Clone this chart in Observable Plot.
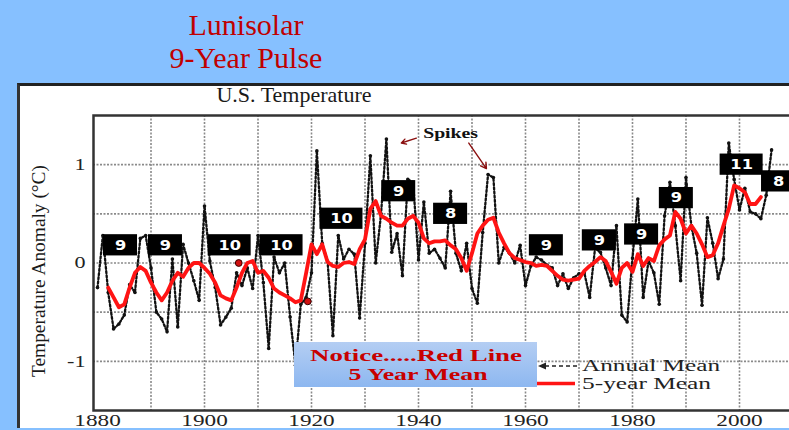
<!DOCTYPE html>
<html>
<head>
<meta charset="utf-8">
<script src="https://cdn.jsdelivr.net/npm/d3@7"></script>
<script src="https://cdn.jsdelivr.net/npm/@observablehq/plot@0.6"></script>
<style>
html, body { margin: 0; padding: 0; width: 789px; height: 430px; overflow: hidden; }
body { background: #86C0FF; position: relative; font-family: "Liberation Serif", serif; }
#panel { position: absolute; left: 17px; top: 83px; width: 772px; height: 345px; background: #fff;
  border-top: 3px solid #222; border-left: 3px solid #333; box-sizing: border-box; }
#chart { position: absolute; left: 0; top: 0; }
#overlay { position: absolute; left: 0; top: 0; pointer-events: none; }
</style>
</head>
<body>
<div id="panel"></div>
<div id="chart"></div>
<svg id="overlay" width="789" height="430"></svg>
<script>
// ---------- data ----------
const annualYears = [1880,1881,1882,1883,1884,1885,1886,1887,1888,1889,
  1890,1891,1892,1893,1894,1895,1896,1897,1898,1899,
  1900,1901,1902,1903,1904,1905,1906,1907,1908,1909,
  1910,1911,1912,1913,1914,1915,1916,1917,1918,1919,
  1920,1921,1922,1923,1924,1925,1926,1927,1928,1929,
  1930,1931,1932,1933,1934,1935,1936,1937,1938,1939,
  1940,1941,1942,1943,1944,1945,1946,1947,1948,1949,
  1950,1951,1952,1953,1954,1955,1956,1957,1958,1959,
  1960,1961,1962,1963,1964,1965,1966,1967,1968,1969,
  1970,1971,1972,1973,1974,1975,1976,1977,1978,1979,
  1980,1981,1982,1983,1984,1985,1986,1987,1988,1989,
  1990,1991,1992,1993,1994,1995,1996,1997,1998,1999,
  2000,2001,2002,2003,2004,2005,2006];
const annualMean = [-0.25,0.28,-0.30,-0.67,-0.62,-0.53,-0.22,-0.30,0.25,0.28,
  -0.05,-0.50,-0.57,-0.70,0.04,-0.65,0.19,0.00,-0.18,-0.38,
  0.58,0.02,-0.25,-0.63,-0.55,-0.46,-0.10,-0.23,-0.05,-0.26,
  0.28,-0.20,-0.87,0.06,-0.10,0.00,-0.55,-1.04,-0.42,-0.35,
  -0.10,1.14,0.20,0.02,-0.74,0.28,0.04,0.14,0.09,-0.56,
  0.20,1.09,0.00,0.50,1.26,0.11,0.30,-0.13,0.85,0.82,
  0.03,0.62,0.10,0.14,0.05,-0.05,0.73,0.10,-0.08,0.20,
  -0.26,-0.41,0.31,0.90,0.87,0.00,0.16,0.10,0.00,0.18,
  -0.23,-0.03,0.06,0.03,-0.02,-0.05,-0.23,-0.11,-0.26,-0.15,
  -0.11,-0.10,-0.35,0.15,0.11,-0.05,-0.23,0.38,-0.53,-0.60,
  0.05,0.65,-0.35,0.02,-0.10,-0.42,0.48,0.82,0.38,-0.18,
  0.87,0.38,0.10,-0.43,0.46,0.20,-0.16,0.04,1.22,0.85,
  0.54,0.76,0.52,0.50,0.45,0.69,1.15];

const fiveYearYears = [1882,1883,1884,1885,1886,1887,1888,1889,
  1890,1891,1892,1893,1894,1895,1896,1897,1898,1899,
  1900,1901,1902,1903,1904,1905,1906,1907,1908,1909,
  1910,1911,1912,1913,1914,1915,1916,1917,1918,1919,
  1920,1921,1922,1923,1924,1925,1926,1927,1928,1929,
  1930,1931,1932,1933,1934,1935,1936,1937,1938,1939,
  1940,1941,1942,1943,1944,1945,1946,1947,1948,1949,
  1950,1951,1952,1953,1954,1955,1956,1957,1958,1959,
  1960,1961,1962,1963,1964,1965,1966,1967,1968,1969,
  1970,1971,1972,1973,1974,1975,1976,1977,1978,1979,
  1980,1981,1982,1983,1984,1985,1986,1987,1988,1989,
  1990,1991,1992,1993,1994,1995,1996,1997,1998,1999,
  2000,2001,2002,2003,2004];
const fiveYearMean = [-0.25,-0.35,-0.45,-0.42,-0.25,-0.10,-0.04,-0.08,
  -0.20,-0.30,-0.38,-0.30,-0.18,-0.10,-0.14,-0.05,0.00,0.00,
  -0.05,-0.11,-0.20,-0.33,-0.36,-0.38,-0.25,-0.10,0.00,0.02,
  -0.10,-0.08,-0.15,-0.26,-0.30,-0.33,-0.36,-0.40,-0.38,-0.10,
  0.19,0.09,0.19,0.01,-0.03,-0.04,0.00,0.01,-0.01,0.14,
  0.24,0.55,0.63,0.48,0.45,0.41,0.38,0.38,0.45,0.48,
  0.41,0.25,0.20,0.22,0.22,0.23,0.18,0.14,0.05,-0.08,
  0.10,0.30,0.38,0.44,0.46,0.31,0.20,0.10,0.05,0.03,
  0.01,0.00,-0.03,-0.02,-0.03,-0.08,-0.13,-0.17,-0.18,-0.17,
  -0.16,-0.08,-0.03,0.01,0.06,0.02,-0.09,-0.21,-0.05,0.00,
  -0.09,0.09,-0.03,0.05,0.02,0.18,0.24,0.28,0.52,0.45,
  0.30,0.38,0.30,0.19,0.06,0.08,0.20,0.38,0.55,0.79,
  0.76,0.72,0.60,0.60,0.67];

// cycle-length annotations (label, centre year, centre anomaly)
const cycleLabels = ["9","9","10","10","10","9","8","9","9","9","9","11","8"];
const cycleYears  = [1884.3,1892.7,1904.7,1914.4,1925.6,1936.3,1946.0,1963.9,1973.8,1981.7,1988.2,2000.4,2007.3];
const cycleValues = [0.18,0.18,0.18,0.18,0.45,0.73,0.50,0.18,0.23,0.29,0.66,1.00,0.83];

// highlighted red points
const markYears  = [1906.4, 1919.3];
const markValues = [0.00, -0.39];

// "Spikes" annotation
const spikeLabel = ["Spikes"];
const spikeLabelYear = [1946.0];
const spikeLabelValue = [1.32];
const arrowFromYears  = [1939.6, 1949.4];
const arrowFromValues = [1.27, 1.22];
const arrowToYears    = [1936.8, 1952.7];
const arrowToValues   = [1.22, 0.96];

const xTickYears  = [1880,1900,1920,1940,1960,1980,2000];
const yTickValues = [-1,0,1];
const xGridYears  = [1890,1900,1910,1920,1930,1940,1950,1960,1970,1980,1990,2000];
const yGridValues = [-1,-0.5,0,0.5,1];

// ---------- tables ----------
const annual = annualYears.map((y, i) => ({year: y, value: annualMean[i]}));
const fiveYear = fiveYearYears.map((y, i) => ({year: y, value: fiveYearMean[i]}));
const cycles = cycleLabels.map((t, i) => ({label: t, year: cycleYears[i], value: cycleValues[i]}));
const marks = markYears.map((y, i) => ({year: y, value: markValues[i]}));
const spikesText = spikeLabel.map((t, i) => ({label: t, year: spikeLabelYear[i], value: spikeLabelValue[i]}));
const arrows = arrowFromYears.map((y, i) => ({x1: y, y1: arrowFromValues[i], x2: arrowToYears[i], y2: arrowToValues[i]}));

const halfW = d => d.label.length > 1 ? 4.02 : 3.18;   // box half width (years)
const halfH = 0.108;                                    // box half height (°C)

const plot = Plot.plot({
  width: 800,
  height: 430,
  marginLeft: 93,
  marginRight: 5,
  marginTop: 115,
  marginBottom: 20,
  style: {background: "transparent", maxWidth: "none", fontFamily: "Liberation Serif, serif", fontSize: "16px", color: "#222"},
  x: {domain: [1879.25, 2010.47], label: null},
  y: {domain: [-1.5, 1.5], label: null},
  marks: [
    Plot.ruleX(xGridYears, {stroke: "#8a8a8a", strokeWidth: 1.6, strokeDasharray: "2,1.5"}),
    Plot.ruleY(yGridValues, {stroke: "#8a8a8a", strokeWidth: 1.6, strokeDasharray: "2,1.5"}),
    Plot.axisX(xTickYears, {tickSize: 0, tickPadding: 4, tickFormat: d => String(d), fontSize: 16, label: null}),
    Plot.axisY(yTickValues, {tickSize: 0, tickPadding: 8, tickFormat: d => String(d), fontSize: 17, label: null}),
    Plot.line(annual, {x: "year", y: "value", stroke: "#111", strokeWidth: 2.3, strokeDasharray: "2,2.2"}),
    Plot.dot(annual, {x: "year", y: "value", r: 1.8, fill: "#111"}),
    Plot.line(fiveYear, {x: "year", y: "value", stroke: "#FF1414", strokeWidth: 3.8, strokeLinejoin: "round"}),
    Plot.dot(marks, {x: "year", y: "value", r: 3.4, fill: "#D01010", stroke: "#3a0000", strokeWidth: 1}),
    Plot.frame({stroke: "#333", strokeWidth: 2.5}),
    Plot.rect(cycles, {x1: d => d.year - halfW(d), x2: d => d.year + halfW(d), y1: d => d.value - halfH, y2: d => d.value + halfH, fill: "#000"}),
    Plot.text(cycles, {x: "year", y: "value", text: "label", fill: "#fff", fontFamily: "DejaVu Sans, sans-serif", fontWeight: "bold", fontSize: 13.5}),
    Plot.text(spikesText, {x: "year", y: "value", text: "label", fill: "#111", fontFamily: "Liberation Serif, serif", fontWeight: "bold", fontSize: 14}),
    Plot.arrow(arrows, {x1: "x1", y1: "y1", x2: "x2", y2: "y2", stroke: "#8B1010", strokeWidth: 1.4, headLength: 7})
  ]
});
document.getElementById("chart").appendChild(plot);

// widen horizontal glyphs to match the stretched original picture
function stretch(sel, k) {
  sel.each(function() {
    const w = this.getComputedTextLength();
    if (w > 0) {
      this.setAttribute("textLength", (w * k).toFixed(2));
      this.setAttribute("lengthAdjust", "spacingAndGlyphs");
    }
  });
}
const svg = d3.select(plot);
stretch(svg.selectAll('g[aria-label="x-axis tick label"] text'), 1.45);
stretch(svg.selectAll('g[aria-label="y-axis tick label"] text'), 1.3);
const textGroups = svg.selectAll('g[aria-label="text"]').nodes();
if (textGroups[0]) stretch(d3.select(textGroups[0]).selectAll("text"), 1.2);
if (textGroups[1]) stretch(d3.select(textGroups[1]).selectAll("text"), 1.41);

// ---------- titles, label, notice and legend ----------
const ov = d3.select("#overlay");
const defs = ov.append("defs");
const grad = defs.append("linearGradient").attr("id", "noticeGrad").attr("x1", 0).attr("y1", 0).attr("x2", 0).attr("y2", 1);
grad.append("stop").attr("offset", "0%").attr("stop-color", "#B4CEF3");
grad.append("stop").attr("offset", "100%").attr("stop-color", "#8DB7F0");

ov.append("text").attr("x", 246).attr("y", 35).attr("text-anchor", "middle")
  .attr("font-family", "Liberation Serif, serif").attr("font-size", 30).attr("fill", "#C00000").text("Lunisolar");
ov.append("text").attr("x", 246).attr("y", 68).attr("text-anchor", "middle")
  .attr("font-family", "Liberation Serif, serif").attr("font-size", 30).attr("fill", "#C00000").text("9-Year Pulse");
ov.append("text").attr("x", 294).attr("y", 102).attr("text-anchor", "middle")
  .attr("font-family", "Liberation Serif, serif").attr("font-size", 22).attr("fill", "#1a1a1a").text("U.S. Temperature");
ov.append("text").attr("transform", "translate(44.5,271) rotate(-90)").attr("text-anchor", "middle")
  .attr("font-family", "Liberation Serif, serif").attr("font-size", 19).attr("fill", "#1a1a1a")
  .attr("textLength", 212).attr("lengthAdjust", "spacingAndGlyphs").text("Temperature Anomaly (°C)");

// notice box
ov.append("rect").attr("x", 294).attr("y", 342).attr("width", 243).attr("height", 45).attr("fill", "url(#noticeGrad)");
ov.append("text").attr("x", 416).attr("y", 361).attr("text-anchor", "middle")
  .attr("font-family", "Liberation Serif, serif").attr("font-weight", "bold").attr("font-size", 17).attr("fill", "#C80000")
  .attr("textLength", 212).attr("lengthAdjust", "spacingAndGlyphs").text("Notice.....Red Line");
ov.append("text").attr("x", 418).attr("y", 380).attr("text-anchor", "middle")
  .attr("font-family", "Liberation Serif, serif").attr("font-weight", "bold").attr("font-size", 17).attr("fill", "#C80000")
  .attr("textLength", 139).attr("lengthAdjust", "spacingAndGlyphs").text("5 Year Mean");

// legend
ov.append("line").attr("x1", 545).attr("x2", 578).attr("y1", 366).attr("y2", 366)
  .attr("stroke", "#222").attr("stroke-width", 1.6).attr("stroke-dasharray", "4,3");
ov.append("path").attr("d", "M538,366 L546,362.5 L546,369.5 Z").attr("fill", "#222");
ov.append("text").attr("x", 582).attr("y", 370.5).attr("font-family", "Liberation Serif, serif").attr("font-size", 16)
  .attr("fill", "#222").attr("textLength", 138).attr("lengthAdjust", "spacingAndGlyphs").text("Annual Mean");
ov.append("line").attr("x1", 537).attr("x2", 575).attr("y1", 383.5).attr("y2", 383.5)
  .attr("stroke", "#FF1414").attr("stroke-width", 3.6);
ov.append("text").attr("x", 582).attr("y", 389).attr("font-family", "Liberation Serif, serif").attr("font-size", 16)
  .attr("fill", "#222").attr("textLength", 129).attr("lengthAdjust", "spacingAndGlyphs").text("5-year Mean");
</script>
</body>
</html>
